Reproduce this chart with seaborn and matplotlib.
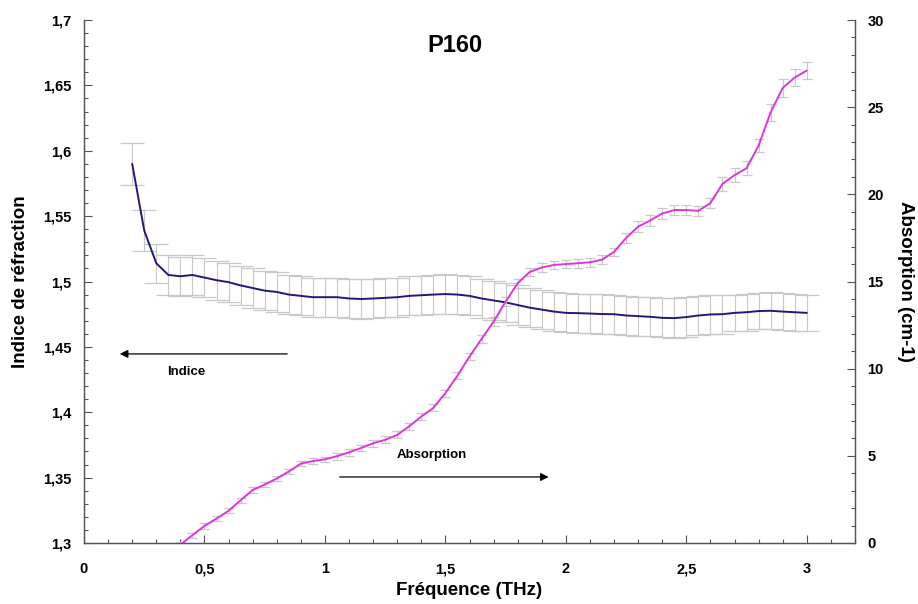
import matplotlib
matplotlib.use("Agg")
import matplotlib.pyplot as plt
import numpy as np
import pandas as pd
import seaborn as sns
from matplotlib.ticker import MultipleLocator, FuncFormatter

# Data (frequency in THz)
freq_indice = [0.20, 0.25, 0.30, 0.35, 0.40, 0.45, 0.50, 0.55, 0.60, 0.65,
               0.70, 0.75, 0.80, 0.85, 0.90, 0.95, 1.00, 1.05, 1.10, 1.15,
               1.20, 1.25, 1.30, 1.35, 1.40, 1.45, 1.50, 1.55, 1.60, 1.65,
               1.70, 1.75, 1.80, 1.85, 1.90, 1.95, 2.00, 2.05, 2.10, 2.15,
               2.20, 2.25, 2.30, 2.35, 2.40, 2.45, 2.50, 2.55, 2.60, 2.65,
               2.70, 2.75, 2.80, 2.85, 2.90, 2.95, 3.00]
indice = [1.590, 1.539, 1.514, 1.505, 1.504, 1.505, 1.503, 1.501, 1.4995, 1.497,
          1.495, 1.493, 1.492, 1.490, 1.489, 1.488, 1.488, 1.488, 1.487, 1.4866,
          1.487, 1.4875, 1.488, 1.489, 1.4895, 1.490, 1.4904, 1.490, 1.489, 1.487,
          1.4855, 1.484, 1.482, 1.480, 1.4785, 1.477, 1.476, 1.4758, 1.4755, 1.4751,
          1.475, 1.474, 1.4735, 1.473, 1.4722, 1.472, 1.4728, 1.474, 1.4748, 1.475,
          1.476, 1.4765, 1.4774, 1.4776, 1.477, 1.4765, 1.476]
indice_err = [0.016, 0.016, 0.015, 0.015, 0.015, 0.015, 0.015, 0.015, 0.015, 0.015,
              0.015, 0.015, 0.015, 0.015, 0.015, 0.015, 0.015, 0.015, 0.015, 0.015,
              0.015, 0.015, 0.015, 0.015, 0.015, 0.015, 0.015, 0.015, 0.015, 0.015,
              0.015, 0.015, 0.015, 0.015, 0.015, 0.015, 0.015, 0.015, 0.015, 0.015,
              0.015, 0.015, 0.015, 0.015, 0.015, 0.015, 0.015, 0.015, 0.015, 0.015,
              0.014, 0.014, 0.014, 0.014, 0.014, 0.014, 0.014]

freq_abs = [0.40, 0.45, 0.50, 0.55, 0.60, 0.65, 0.70, 0.75, 0.80, 0.85,
            0.90, 0.95, 1.00, 1.05, 1.10, 1.15, 1.20, 1.25, 1.30, 1.35,
            1.40, 1.45, 1.50, 1.55, 1.60, 1.65, 1.70, 1.75, 1.80, 1.85,
            1.90, 1.95, 2.00, 2.05, 2.10, 2.15, 2.20, 2.25, 2.30, 2.35,
            2.40, 2.45, 2.50, 2.55, 2.60, 2.65, 2.70, 2.75, 2.80, 2.85,
            2.90, 2.95, 3.00]
absorption = [-0.1, 0.45, 0.98, 1.40, 1.85, 2.45, 3.04, 3.35, 3.70, 4.10,
              4.55, 4.70, 4.80, 4.98, 5.20, 5.45, 5.72, 5.92, 6.20, 6.70,
              7.25, 7.75, 8.60, 9.60, 10.7, 11.7, 12.7, 13.85, 14.9, 15.55,
              15.8, 15.95, 16.0, 16.05, 16.1, 16.25, 16.7, 17.5, 18.15, 18.5,
              18.9, 19.1, 19.1, 19.05, 19.5, 20.6, 21.1, 21.5, 22.8, 24.7,
              26.1, 26.7, 27.1]
absorption_err = [0.15, 0.15, 0.15, 0.15, 0.15, 0.15, 0.15, 0.15, 0.15, 0.15,
                  0.15, 0.15, 0.15, 0.2, 0.2, 0.2, 0.2, 0.2, 0.2, 0.2,
                  0.2, 0.2, 0.2, 0.2, 0.2, 0.25, 0.25, 0.25, 0.25, 0.25,
                  0.25, 0.25, 0.25, 0.25, 0.25, 0.25, 0.25, 0.3, 0.3, 0.3,
                  0.3, 0.3, 0.3, 0.3, 0.3, 0.4, 0.4, 0.4, 0.4, 0.5,
                  0.5, 0.5, 0.5]

df_ind = pd.DataFrame({"freq": freq_indice, "indice": indice, "err": indice_err})
df_abs = pd.DataFrame({"freq": freq_abs, "absorption": absorption, "err": absorption_err})

sns.set_style("ticks")
plt.rcParams["font.family"] = ["Liberation Sans", "DejaVu Sans"]
plt.rcParams["font.weight"] = "bold"
plt.rcParams["text.color"] = "black"
plt.rcParams["axes.labelcolor"] = "black"

fig = plt.figure(figsize=(9.18, 6.04), dpi=100)
ax = fig.add_axes([84 / 918, 1 - 543 / 604, (855 - 84) / 918, (543 - 20) / 604])
ax2 = ax.twinx()

grey = "#c8c8c8"
# refractive index on left axis
ax.errorbar(df_ind["freq"], df_ind["indice"], yerr=df_ind["err"], fmt="none",
            ecolor=grey, elinewidth=0.8, capsize=8.5, capthick=0.9, zorder=1)
sns.lineplot(data=df_ind, x="freq", y="indice", ax=ax, color="#1c1c78",
             linewidth=1.4, zorder=3)

# absorption on right axis
ax2.errorbar(df_abs["freq"], df_abs["absorption"], yerr=df_abs["err"], fmt="none",
             ecolor=grey, elinewidth=0.8, capsize=3.5, capthick=0.9, zorder=1)
sns.lineplot(data=df_abs, x="freq", y="absorption", ax=ax2, color="#dd35dd",
             linewidth=1.4, zorder=3)

comma = FuncFormatter(lambda v, p: f"{v:g}".replace(".", ","))

ax.set_xlim(0, 3.2)
ax.set_ylim(1.3, 1.7)
ax2.set_ylim(0, 30)
ax.xaxis.set_major_locator(MultipleLocator(0.5))
ax.xaxis.set_minor_locator(MultipleLocator(0.1))
ax.yaxis.set_major_locator(MultipleLocator(0.05))
ax.yaxis.set_minor_locator(MultipleLocator(0.01))
ax2.yaxis.set_major_locator(MultipleLocator(5))
ax2.yaxis.set_minor_locator(MultipleLocator(1))
ax.xaxis.set_major_formatter(comma)
ax.yaxis.set_major_formatter(comma)

for a in (ax, ax2):
    a.tick_params(which="major", direction="in", length=6, width=0.8,
                  color="#555555", labelcolor="black", labelsize=10.5, pad=9)
    a.tick_params(which="minor", direction="in", length=3, width=0.8,
                  color="#555555")
    a.spines["top"].set_visible(False)
    for s in ("left", "right", "bottom"):
        a.spines[s].set_color("#555555")
        a.spines[s].set_linewidth(0.9)
    for lab in a.get_xticklabels() + a.get_yticklabels():
        lab.set_fontweight("bold")
ax.tick_params(axis="x", which="major", pad=14)

ax.set_xlabel("Fréquence (THz)", fontsize=13.5, fontweight="bold", labelpad=4)
ax.set_ylabel("Indice de réfraction", fontsize=13.5, fontweight="bold", labelpad=10)
ax2.set_ylabel("Absorption (cm-1)", fontsize=13.5, fontweight="bold",
               rotation=270, labelpad=22)
ax.text(0.481, 0.952, "P160", transform=ax.transAxes, ha="center", va="center",
        fontsize=17, fontweight="bold")

# annotations with arrows
ax.annotate("", xy=(0.137, 1.4446), xytext=(0.855, 1.4446),
            arrowprops=dict(arrowstyle="-|>", color="black", lw=0.9,
                            mutation_scale=12))
ax.text(0.423, 1.4308, "Indice", ha="center", va="center", fontsize=9.5,
        fontweight="bold")
ax.annotate("", xy=(1.94, 1.3505), xytext=(1.05, 1.3505),
            arrowprops=dict(arrowstyle="-|>", color="black", lw=0.9,
                            mutation_scale=12))
ax.text(1.444, 1.3675, "Absorption", ha="center", va="center", fontsize=9.5,
        fontweight="bold")

fig.savefig("out.png", dpi=100)
